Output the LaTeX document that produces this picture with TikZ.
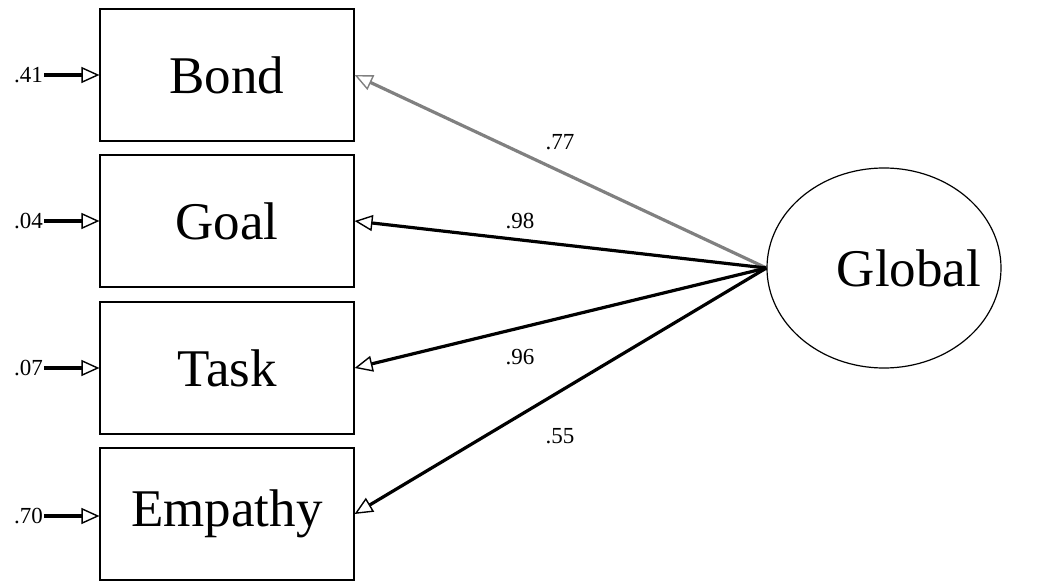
\documentclass[tikz,border=0pt]{standalone}
\usepackage{fontspec}
\setmainfont{Liberation Serif}
\usetikzlibrary{arrows.meta, shapes.geometric}

\begin{document}
\begin{tikzpicture}[x=1pt, y=-1pt,
    >={Triangle[open, length=18pt, width=16pt, line width=1.4pt]}]
  \useasboundingbox (0,0) rectangle (1042,583);

  % --- 1. styles ---
  \tikzset{
    obs/.style={draw, line width=1.2pt, minimum width=254pt, minimum height=132pt,
                font=\fontsize{53}{60}\selectfont},
    errlbl/.style={font=\fontsize{23}{26}\selectfont, inner sep=1pt},
    load/.style={line width=3.2pt, ->},
    coef/.style={font=\fontsize{23}{26}\selectfont},
  }

  % --- 2. observed variables (boxes) ---
  \node[obs] (bond)    at (227,75)  {Bond};
  \node[obs] (goal)    at (227,221) {Goal};
  \node[obs] (task)    at (227,368) {Task};
  \node[obs] (empathy) at (227,514) {Empathy};

  % --- 3. latent variable (ellipse) ---
  \node[draw, ellipse, line width=1.2pt, minimum width=234pt, minimum height=200pt]
    (global) at (884,268) {};
  \node[font=\fontsize{53}{60}\selectfont] (globaltxt) at ([xshift=25pt]global.center) {Global};

  % --- 4. error terms ---
  \node[errlbl, anchor=east] (e1) at (44,75)  {.41};
  \node[errlbl, anchor=east] (e2) at (44,221) {.04};
  \node[errlbl, anchor=east] (e3) at (44,368) {.07};
  \node[errlbl, anchor=east] (e4) at (44,516) {.70};

  \draw[load] (e1) -- (bond.west);
  \draw[load] (e2) -- (goal.west);
  \draw[load] (e3) -- (task.west);
  \draw[load] (e4) -- (empathy.west |- e4);

  % --- 5. loadings ---
  \draw[load, black!50] (global.west) -- (bond.east);
  \draw[load] (global.west) -- (goal.east);
  \draw[load] (global.west) -- (task.east);
  \draw[load] (global.west) -- (empathy.east);

  % --- 6. coefficients ---
  \node[coef] (c1) at (560,142) {.77};
  \node[coef] (c2) at (520,221) {.98};
  \node[coef] (c3) at (520,357) {.96};
  \node[coef] (c4) at (560,436) {.55};

\end{tikzpicture}
\end{document}
